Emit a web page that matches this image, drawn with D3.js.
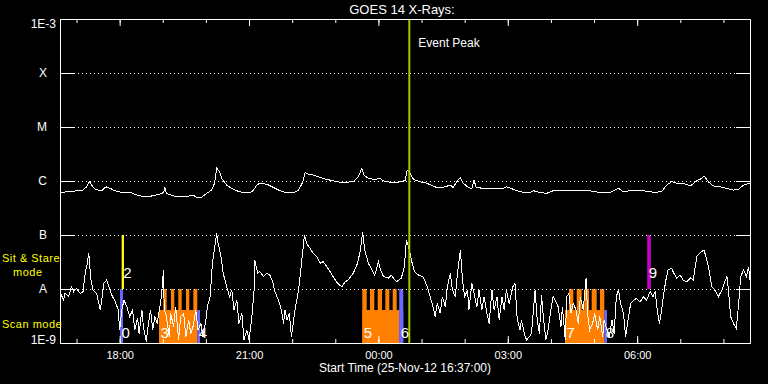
<!DOCTYPE html>
<html>
<head>
<meta charset="utf-8">
<script src="https://cdn.jsdelivr.net/npm/d3@7"></script>
<style>
  body { margin: 0; background: #000; }
  svg { display: block; font-family: "Liberation Sans", Arial, sans-serif; }
</style>
</head>
<body>
<svg id="chart" width="768" height="384"></svg>
<script>
// start of the plot window, everything else is minutes after it
const startTime = new Date(Date.UTC(2012, 10, 25, 16, 37));
const spanMinutes = 960;
const eventPeakMinute = 486;

const classLevels = [1e-8, 1e-7, 1e-6, 1e-5, 1e-4];
const classLabels = ['A', 'B', 'C', 'M', 'X'];
const edgeLevels = [1e-9, 1e-3];
const edgeLabels = ['1E-9', '1E-3'];

// GOES 1-8 A channel [minute, W/m^2]
const goesLong = [
  [0,6.2e-7],[14,6.3e-7],[23,6.6e-7],[32,6.8e-7],[37,7.8e-7],[41,9.7e-7],[44,8.4e-7],[49,7.0e-7],
  [53,6.8e-7],[58,6.6e-7],[64,7.8e-7],[70,7.3e-7],[74,6.8e-7],[81,6.3e-7],[90,6.1e-7],[97,6.2e-7],
  [104,5.7e-7],[111,5.3e-7],[121,5.1e-7],[130,5.35e-7],[139,5.7e-7],[144,6.1e-7],[146,7.6e-7],[148,5.9e-7],
  [158,5.3e-7],[167,5.1e-7],[176,5.1e-7],[185,5.5e-7],[190,5.0e-7],[197,5.0e-7],[204,5.9e-7],[211,6.8e-7],
  [215,9.1e-7],[218,1.72e-6],[222,1.49e-6],[225,1.12e-6],[232,8.4e-7],[241,7.0e-7],[250,6.3e-7],[260,6.1e-7],
  [267,6.3e-7],[274,8.4e-7],[278,9.1e-7],[288,8.7e-7],[297,7.6e-7],[306,6.6e-7],[315,6.1e-7],[325,6.1e-7],
  [332,6.8e-7],[338,9.7e-7],[341,1.43e-6],[345,1.35e-6],[352,1.29e-6],[362,1.17e-6],[371,1.07e-6],[380,1.01e-6],
  [390,9.5e-7],[399,9.5e-7],[408,9.7e-7],[415,1.2e-6],[420,1.72e-6],[423,1.29e-6],[429,1.12e-6],[438,1.07e-6],
  [445,1.12e-6],[452,9.7e-7],[461,9.5e-7],[471,9.5e-7],[478,1.0e-6],[480,1.01e-6],[483,1.6e-6],[487,1.39e-6],
  [492,1.07e-6],[501,9.7e-7],[510,9.1e-7],[524,7.6e-7],[533,7.6e-7],[543,8.4e-7],[547,7.6e-7],[552,9.7e-7],
  [557,1.17e-6],[561,9.1e-7],[568,7.6e-7],[573,7.3e-7],[576,1.04e-6],[579,7.6e-7],[589,7.3e-7],[603,7.3e-7],
  [617,7.3e-7],[621,7.8e-7],[631,7.0e-7],[640,6.3e-7],[654,6.1e-7],[659,6.6e-7],[668,6.1e-7],[677,5.9e-7],
  [686,6.6e-7],[700,6.8e-7],[714,6.8e-7],[728,6.8e-7],[737,6.6e-7],[751,6.1e-7],[765,6.1e-7],[777,7.3e-7],
  [784,6.3e-7],[793,6.6e-7],[802,6.8e-7],[812,6.6e-7],[825,6.2e-7],[837,6.3e-7],[844,8.4e-7],[851,9.7e-7],
  [858,9.1e-7],[867,9.1e-7],[877,8.1e-7],[886,1.01e-6],[893,1.12e-6],[896,1.24e-6],[902,9.7e-7],[909,8.1e-7],
  [918,7.8e-7],[928,7.3e-7],[937,6.8e-7],[944,7.0e-7],[951,8.4e-7],[958,9.0e-7],[960,9.1e-7]
];

// GOES 0.5-4 A channel [minute, W/m^2]
const goesShort = [
  [0,8.9e-9],[5,6.2e-9],[7,8.3e-9],[12,7.2e-9],[16,1.1e-8],[19,8.9e-9],[23,1.03e-8],[28,8.3e-9],
  [32,8.9e-9],[35,1.95e-8],[38,3.0e-8],[40,4.6e-8],[43,1.47e-8],[46,9.6e-9],[51,8.3e-9],[56,4.1e-9],
  [58,6.2e-9],[61,1.28e-8],[65,1.47e-8],[69,1.03e-8],[72,7.7e-9],[77,5.8e-9],[81,4.1e-9],[83,1.74e-9],
  [86,4.1e-9],[89,6.2e-9],[93,4.7e-9],[97,3.1e-9],[101,4.1e-9],[104,1.74e-9],[108,2.9e-9],[110,1.5e-9],
  [114,4.1e-9],[116,2.0e-9],[120,1.06e-9],[123,2.3e-9],[126,4.1e-9],[129,1.74e-9],[132,3.1e-9],[135,2.3e-9],
  [139,4.7e-9],[141,7.2e-9],[144,2.25e-8],[145,4.1e-9],[148,3.1e-9],[152,1.3e-9],[154,3.55e-9],[158,2.0e-9],
  [161,4.7e-9],[165,1.14e-9],[168,3.1e-9],[172,3.55e-9],[175,1.3e-9],[179,2.67e-9],[182,1.5e-9],[185,2.0e-9],
  [189,4.1e-9],[192,1.74e-9],[196,2.3e-9],[199,1.3e-9],[203,2.67e-9],[205,4.7e-9],[209,7.2e-9],[212,3.0e-8],
  [216,7.0e-8],[218,1.07e-7],[220,7.0e-8],[224,4.0e-8],[227,1.95e-8],[232,1.1e-8],[236,7.2e-9],[239,9.6e-9],
  [242,4.1e-9],[246,6.2e-9],[249,2.3e-9],[253,3.55e-9],[256,1.14e-9],[260,1.74e-9],[263,1.14e-9],[267,3.1e-9],
  [270,9.6e-9],[271,3.4e-8],[275,1.95e-8],[278,2.1e-8],[283,1.7e-8],[288,1.95e-8],[292,1.8e-8],[296,1.36e-8],
  [299,8.9e-9],[304,6.2e-9],[308,4.1e-9],[311,2.3e-9],[313,4.1e-9],[316,2.67e-9],[319,3.55e-9],[322,1.3e-9],
  [325,2.67e-9],[327,4.1e-9],[332,9.6e-9],[335,2.25e-8],[338,5.3e-8],[340,1.0e-7],[343,7.0e-8],[348,5.7e-8],
  [352,4.6e-8],[357,4.0e-8],[362,3.0e-8],[366,3.2e-8],[373,2.4e-8],[380,1.7e-8],[386,1.28e-8],[392,1.1e-8],
  [397,1.36e-8],[401,1.47e-8],[408,1.95e-8],[414,3.0e-8],[418,5.3e-8],[421,1.15e-7],[424,5.3e-8],[429,3.0e-8],
  [434,2.25e-8],[438,1.8e-8],[443,3.2e-8],[446,2.25e-8],[450,1.7e-8],[457,1.6e-8],[461,1.8e-8],[468,1.36e-8],
  [475,1.6e-8],[479,2.6e-8],[482,8.1e-8],[486,5.3e-8],[489,3.4e-8],[493,2.1e-8],[499,1.8e-8],[505,1.7e-8],
  [511,1.1e-8],[515,7.2e-9],[519,4.7e-9],[522,3.1e-9],[525,5.4e-9],[529,3.55e-9],[532,7.2e-9],[536,4.7e-9],
  [539,1.1e-8],[543,1.95e-8],[546,9.6e-9],[550,7.2e-9],[552,1.47e-8],[557,5.3e-8],[560,1.47e-8],[563,7.2e-9],
  [567,9.6e-9],[569,4.1e-9],[573,1.28e-8],[576,8.3e-9],[580,4.7e-9],[583,9.6e-9],[587,4.1e-9],[590,7.2e-9],
  [594,3.55e-9],[597,2.3e-9],[601,9.6e-9],[604,4.1e-9],[608,7.2e-9],[611,2.67e-9],[615,7.2e-9],[618,4.1e-9],
  [621,9.6e-9],[625,5.4e-9],[630,1.1e-8],[633,1.28e-8],[636,2.9e-9],[640,1.74e-9],[642,2.67e-9],[646,1.5e-9],
  [649,1.14e-9],[653,1.3e-9],[656,1.5e-9],[659,4.7e-9],[661,9.6e-9],[664,2.67e-9],[667,1.5e-9],[670,7.7e-9],
  [672,3.55e-9],[676,1.14e-9],[679,1.74e-9],[683,4.1e-9],[686,7.2e-9],[690,5.8e-9],[693,4.7e-9],[697,2.0e-9],
  [699,4.7e-9],[703,1.14e-9],[705,7.2e-9],[708,8.3e-9],[711,3.55e-9],[714,5.4e-9],[718,4.1e-9],[721,2.3e-9],
  [724,7.2e-9],[728,4.1e-9],[732,1.6e-8],[734,3.55e-9],[737,1.74e-9],[741,2.3e-9],[744,3.55e-9],[748,1.74e-9],
  [751,3.1e-9],[755,1.3e-9],[757,2.67e-9],[761,1.74e-9],[764,1.3e-9],[768,2.67e-9],[771,1.5e-9],[774,7.2e-9],
  [777,9.6e-9],[780,5.4e-9],[784,3.55e-9],[787,1.3e-9],[791,3.1e-9],[794,5.4e-9],[798,6.2e-9],[802,6.7e-9],
  [807,5.8e-9],[812,7.2e-9],[816,6.2e-9],[821,8.9e-9],[825,7.2e-9],[828,8.9e-9],[831,4.1e-9],[834,2.3e-9],
  [837,4.1e-9],[840,8.3e-9],[843,1.47e-8],[846,2.25e-8],[851,2.4e-8],[854,1.95e-8],[858,1.6e-8],[863,1.8e-8],
  [867,1.47e-8],[872,1.36e-8],[877,1.6e-8],[881,1.47e-8],[886,4.0e-8],[890,4.6e-8],[896,5.3e-8],[900,3.4e-8],
  [903,2.25e-8],[907,1.1e-8],[911,9.6e-9],[916,7.2e-9],[921,9.6e-9],[924,1.28e-8],[928,1.7e-8],[930,9.6e-9],
  [933,3.1e-9],[937,2.3e-9],[941,1.87e-9],[943,3.55e-9],[945,7.2e-9],[947,1.7e-8],[951,2.25e-8],[955,1.7e-8],
  [958,2.6e-8],[960,1.47e-8]
];

// IRIS observations, minutes after start; rasters are the individual scans
const observations = [
  {id: 0, kind: 'single', start: 83.5, end: 87.6, rasters: [[83.5, 87.6]]},
  {id: 2, kind: 'stareA', start: 85.8, end: 89},
  {id: 3, kind: 'raster', start: 137.7, end: 191, rasters: [[143.7, 148.4], [154.4, 159], [164.6, 169.3], [175.3, 179.9], [185.5, 191]]},
  {id: 4, kind: 'single', start: 191, end: 194.8, rasters: []},
  {id: 5, kind: 'raster', start: 420.6, end: 472, rasters: [[420.6, 426.7], [431.3, 437.3], [442, 448], [452.6, 458.2], [462.9, 468.4]]},
  {id: 6, kind: 'single', start: 472, end: 477.6, rasters: [[472, 477.6]]},
  {id: 7, kind: 'raster', start: 702.6, end: 757.3, rasters: [[708.2, 714.2], [718.9, 725.8], [729.4, 736], [739.7, 746.7], [751.3, 757.3]]},
  {id: 8, kind: 'single', start: 757.3, end: 761, rasters: []},
  {id: 9, kind: 'stareB', start: 817, end: 822}
];

const kindColor = {single: '#6a6aff', raster: '#ff8000', stareA: '#ffff00', stareB: '#c800c8'};

const toDate = m => new Date(startTime.getTime() + m * 60000);

const width = 768, height = 384;
const margin = {top: 19, right: 18, bottom: 41, left: 60};

const svg = d3.select('#chart');
svg.append('rect').attr('width', width).attr('height', height).attr('fill', '#000');

const x = d3.scaleUtc()
  .domain([startTime, toDate(spanMinutes)])
  .range([margin.left, width - margin.right]);
const y = d3.scaleLog()
  .domain([1e-9, 1e-3])
  .range([height - margin.bottom, margin.top]);

svg.append('clipPath').attr('id', 'plot-clip')
  .append('rect')
  .attr('x', margin.left).attr('y', margin.top)
  .attr('width', width - margin.left - margin.right)
  .attr('height', height - margin.top - margin.bottom);

const plot = svg.append('g').attr('clip-path', 'url(#plot-clip)');

// observation bars
const scanTop = y(1e-8), scanBottom = y(1e-9);
const scanSplit = scanTop + (scanBottom - scanTop) * 0.39;
const stareTop = y(1e-7);

observations.forEach(o => {
  const c = kindColor[o.kind];
  if(o.kind.startsWith('stare')) {
    plot.append('rect')
      .attr('x', x(toDate(o.start))).attr('y', stareTop)
      .attr('width', x(toDate(o.end)) - x(toDate(o.start)))
      .attr('height', scanTop - stareTop)
      .attr('fill', c);
    return;
  }
  plot.append('rect')
    .attr('x', x(toDate(o.start))).attr('y', scanSplit)
    .attr('width', x(toDate(o.end)) - x(toDate(o.start)))
    .attr('height', scanBottom - scanSplit)
    .attr('fill', c);
  plot.selectAll(null)
    .data(o.rasters)
    .enter()
    .append('rect')
    .attr('x', d => x(toDate(d[0])))
    .attr('y', scanTop)
    .attr('width', d => x(toDate(d[1])) - x(toDate(d[0])))
    .attr('height', scanBottom - scanTop)
    .attr('fill', c);
});

// dotted class lines
const gridLeft = margin.left + 14, gridRight = width - margin.right - 14;
plot.selectAll('line.grid')
  .data(classLevels)
  .enter()
  .append('line')
  .attr('class', 'grid')
  .attr('x1', gridLeft).attr('x2', gridRight)
  .attr('y1', d => Math.round(y(d)) + 0.5).attr('y2', d => Math.round(y(d)) + 0.5)
  .attr('stroke', '#fff')
  .attr('stroke-dasharray', '1,3')
  .attr('shape-rendering', 'crispEdges');

const line = d3.line()
  .x(d => x(toDate(d[0])))
  .y(d => y(Math.max(d[1], 9e-10)));

[goesShort, goesLong].forEach(series => {
  plot.append('path')
    .datum(series)
    .attr('d', line)
    .attr('fill', 'none')
    .attr('stroke', '#fff')
    .attr('stroke-width', 1)
    .attr('shape-rendering', 'crispEdges');
});

// event peak marker
const peakX = x(toDate(eventPeakMinute));
svg.append('line')
  .attr('x1', peakX).attr('x2', peakX)
  .attr('y1', margin.top).attr('y2', height - margin.bottom)
  .attr('stroke', '#9ccc00')
  .attr('stroke-width', 2);
svg.append('text')
  .attr('x', peakX + 9).attr('y', 47)
  .attr('fill', '#fff')
  .attr('font-size', 12)
  .text('Event Peak');

// observation numbers
svg.selectAll('text.obs')
  .data(observations)
  .enter()
  .append('text')
  .attr('class', 'obs')
  .attr('x', d => x(toDate(d.start)) + 1.5)
  .attr('y', d => d.kind.startsWith('stare') ? scanTop - 11 : scanBottom - 5)
  .attr('fill', '#fff')
  .attr('font-size', 15)
  .text(d => d.id);

// axes
const bottom = height - margin.bottom;
const styleAxis = g => {
  g.selectAll('path, line').attr('stroke', '#fff');
  g.selectAll('text').attr('fill', '#fff').attr('font-family', '"Liberation Sans", Arial, sans-serif');
};

svg.append('g')
  .attr('transform', 'translate(0,' + bottom + ')')
  .call(d3.axisBottom(x).ticks(d3.utcHour.every(1)).tickSize(-4).tickSizeOuter(0).tickFormat(''))
  .call(styleAxis);
svg.append('g')
  .attr('transform', 'translate(0,' + bottom + ')')
  .call(d3.axisBottom(x).ticks(d3.utcHour.every(3)).tickSize(-7).tickSizeOuter(0)
    .tickPadding(8).tickFormat(d3.utcFormat('%H:%M')))
  .call(styleAxis)
  .call(g => g.selectAll('text').attr('font-size', 11));

svg.append('g')
  .attr('transform', 'translate(0,' + margin.top + ')')
  .call(d3.axisTop(x).ticks(d3.utcHour.every(1)).tickSize(-4).tickSizeOuter(0).tickFormat(''))
  .call(styleAxis);
svg.append('g')
  .attr('transform', 'translate(0,' + margin.top + ')')
  .call(d3.axisTop(x).ticks(d3.utcHour.every(3)).tickSize(-7).tickSizeOuter(0).tickFormat(''))
  .call(styleAxis);

svg.append('g')
  .attr('transform', 'translate(' + margin.left + ',0)')
  .call(d3.axisLeft(y).tickValues(classLevels).tickSize(-14).tickSizeOuter(0)
    .tickPadding(13).tickFormat((d, i) => classLabels[i]))
  .call(styleAxis)
  .call(g => g.selectAll('text').attr('font-size', 12));
svg.append('g')
  .attr('transform', 'translate(' + margin.left + ',0)')
  .call(d3.axisLeft(y).tickValues(edgeLevels).tickSize(0).tickSizeOuter(0)
    .tickPadding(4).tickFormat((d, i) => edgeLabels[i]))
  .call(styleAxis)
  .call(g => g.selectAll('text').attr('font-size', 12)
    .attr('dy', d => d === 1e-3 ? '0.72em' : '0'));

svg.append('g')
  .attr('transform', 'translate(' + (width - margin.right) + ',0)')
  .call(d3.axisRight(y).tickValues(classLevels).tickSize(-14).tickSizeOuter(0).tickFormat(''))
  .call(styleAxis);

// titles
svg.append('text')
  .attr('x', 402).attr('y', 14)
  .attr('text-anchor', 'middle')
  .attr('fill', '#fff').attr('font-size', 13)
  .text('GOES 14 X-Rays:');
svg.append('text')
  .attr('x', 405).attr('y', 372)
  .attr('text-anchor', 'middle')
  .attr('fill', '#fff').attr('font-size', 12)
  .text('Start Time (25-Nov-12 16:37:00)');

const modeText = svg.append('g').attr('fill', '#ffff00').attr('font-size', 11)
  .attr('letter-spacing', 0.5);
modeText.append('text').attr('x', 2).attr('y', 262).text('Sit & Stare');
modeText.append('text').attr('x', 13).attr('y', 276).text('mode');
modeText.append('text').attr('x', 2).attr('y', 328).text('Scan mode');
</script>
</body>
</html>
